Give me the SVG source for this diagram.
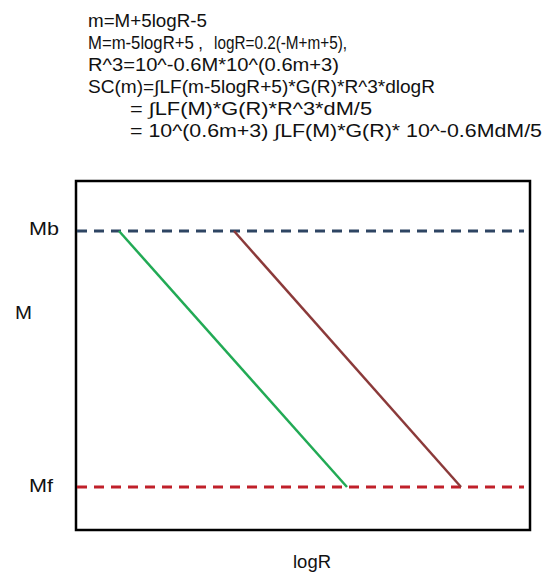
<svg xmlns="http://www.w3.org/2000/svg" width="560" height="582" viewBox="0 0 560 582">
<style>
text{font-family:"Liberation Sans","Open Sans",sans-serif;font-size:18px;fill:#111}
.eq{font-size:17.5px}
.dash{stroke-width:3;stroke-dasharray:10 7;fill:none}
</style>
<rect width="560" height="582" fill="#fff"/>
<g id="equations">
<text class="eq" x="88" y="27" textLength="119" lengthAdjust="spacingAndGlyphs">m=M+5logR-5</text>
<text class="eq" x="88" y="49" textLength="115" lengthAdjust="spacingAndGlyphs">M=m-5logR+5 ,</text>
<text class="eq" x="214" y="49" textLength="133" lengthAdjust="spacingAndGlyphs">logR=0.2(-M+m+5),</text>
<text class="eq" x="88" y="71" textLength="251" lengthAdjust="spacingAndGlyphs">R^3=10^-0.6M*10^(0.6m+3)</text>
<text class="eq" x="88" y="93" textLength="347" lengthAdjust="spacingAndGlyphs">SC(m)=∫LF(m-5logR+5)*G(R)*R^3*dlogR</text>
<text class="eq" x="130" y="115" textLength="242" lengthAdjust="spacingAndGlyphs">= ∫LF(M)*G(R)*R^3*dM/5</text>
<text class="eq" x="130" y="137" textLength="412" lengthAdjust="spacingAndGlyphs">= 10^(0.6m+3) ∫LF(M)*G(R)* 10^-0.6MdM/5</text>
</g>
<g id="plot-frame">
<rect x="76" y="181" width="454" height="349" fill="none" stroke="#000" stroke-width="2.5"/>
</g>
<g id="Mb-line">
<line class="dash" x1="77" y1="231" x2="524" y2="231" stroke="#2E4563"/>
</g>
<g id="Mf-line">
<line class="dash" x1="77" y1="487" x2="524" y2="487" stroke="#C0202A"/>
</g>
<g id="connectors">
<line x1="119" y1="231" x2="347" y2="487" stroke="#22AA55" stroke-width="2.5"/>
<line x1="234" y1="231" x2="461" y2="487" stroke="#8B3A3A" stroke-width="2.5"/>
</g>
<g id="labels">
<text x="29" y="235" textLength="30" lengthAdjust="spacingAndGlyphs">Mb</text>
<text x="15" y="319" textLength="17" lengthAdjust="spacingAndGlyphs">M</text>
<text x="29" y="492" textLength="24" lengthAdjust="spacingAndGlyphs">Mf</text>
<text x="293" y="568" textLength="38" lengthAdjust="spacingAndGlyphs">logR</text>
</g>
</svg>
